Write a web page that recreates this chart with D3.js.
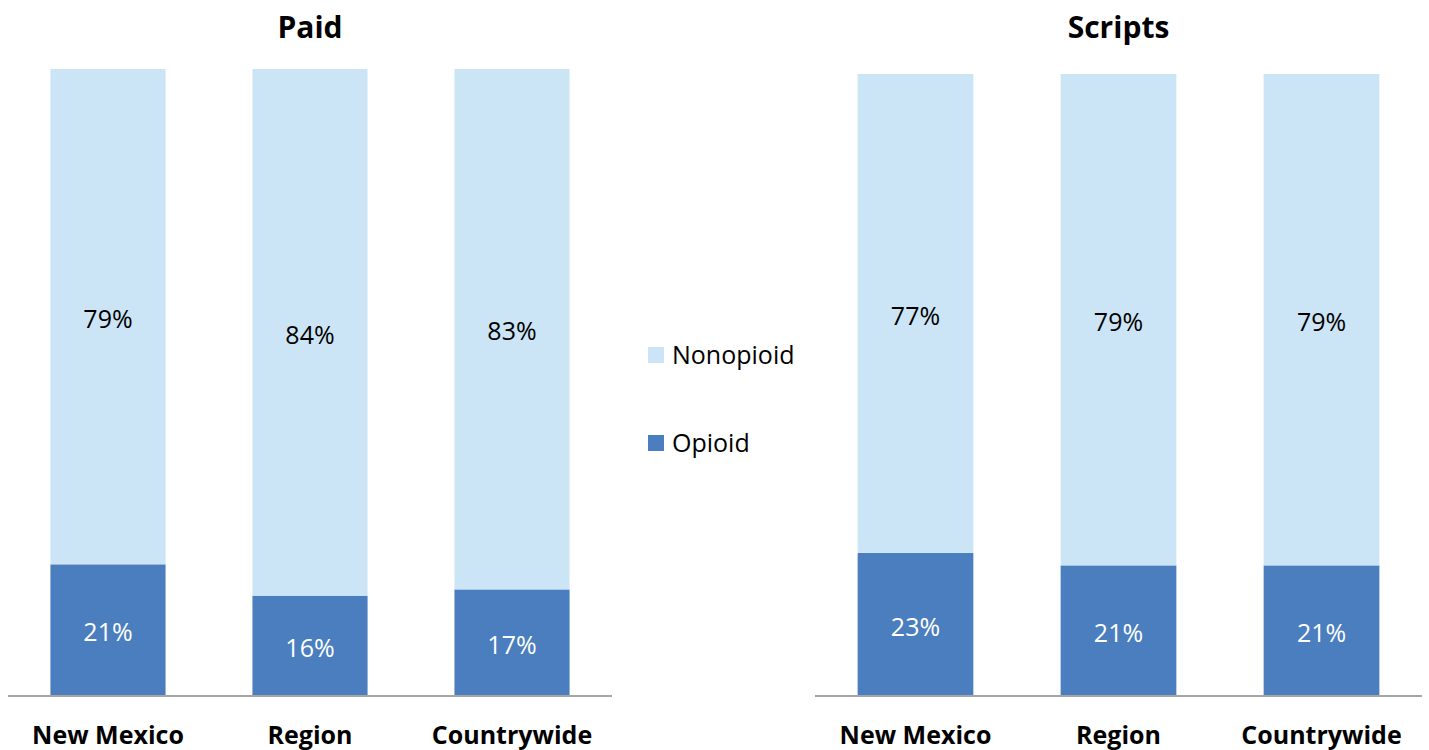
<!DOCTYPE html>
<html>
<head>
<meta charset="utf-8">
<script src="https://cdn.jsdelivr.net/npm/d3@7/dist/d3.min.js"></script>
<style>
  body { margin: 0; background: #fff; }
  svg { display: block; font-family: "Open Sans", "Noto Sans", sans-serif; }
</style>
</head>
<body>
<div id="chart"></div>
<script>
'use strict';

// data
var categories = ['New Mexico', 'Region', 'Countrywide'];
var series = ['Opioid', 'Nonopioid'];
var paidOpioid = [21, 16, 17];
var paidNonopioid = [79, 84, 83];
var scriptsOpioid = [23, 21, 21];
var scriptsNonopioid = [77, 79, 79];

var colors = { Opioid: '#4a7ebf', Nonopioid: '#cce5f6' };

var width = 1429, height = 750;

var svg = d3.select('#chart').append('svg')
    .attr('width', width)
    .attr('height', height);

var panels = [
    { title: 'Paid', opioid: paidOpioid, nonopioid: paidNonopioid, x0: 8, x1: 612, top: 69, bottom: 696 },
    { title: 'Scripts', opioid: scriptsOpioid, nonopioid: scriptsNonopioid, x0: 815, x1: 1422, top: 74, bottom: 696 }
];

panels.forEach(function(p) {
    var g = svg.append('g');

    var x = d3.scaleBand()
        .domain(categories)
        .range([p.x0, p.x1])
        .paddingInner(0.43)
        .paddingOuter(0.21);

    var y = d3.scaleLinear()
        .domain([0, 100])
        .range([p.bottom, p.top]);

    var rows = categories.map(function(c, i) {
        return { cat: c, Opioid: p.opioid[i], Nonopioid: p.nonopioid[i] };
    });
    var stacked = d3.stack().keys(series)(rows);

    var layers = g.selectAll('g.layer')
        .data(stacked)
        .enter().append('g')
        .attr('class', 'layer')
        .attr('fill', function(d) { return colors[d.key]; });

    layers.selectAll('rect')
        .data(function(d) { return d; })
        .enter().append('rect')
        .attr('x', function(d) { return x(d.data.cat); })
        .attr('width', x.bandwidth())
        .attr('y', function(d) { return y(d[1]); })
        .attr('height', function(d) { return y(d[0]) - y(d[1]); });

    layers.each(function(layer) {
        d3.select(this).selectAll('text')
            .data(layer)
            .enter().append('text')
            .attr('x', function(d) { return x(d.data.cat) + x.bandwidth() / 2; })
            .attr('y', function(d) { return (y(d[0]) + y(d[1])) / 2; })
            .attr('dy', '0.45em')
            .attr('text-anchor', 'middle')
            .attr('font-size', 25)
            .attr('fill', layer.key === 'Opioid' ? '#ffffff' : '#000000')
            .text(function(d) { return (d[1] - d[0]) + '%'; });
    });

    var axis = d3.axisBottom(x).tickSize(0).tickPadding(30);
    var ag = g.append('g')
        .attr('transform', 'translate(0,' + p.bottom + ')')
        .call(axis);
    ag.select('.domain')
        .attr('d', 'M' + p.x0 + ',0H' + p.x1)
        .attr('stroke', '#a6a6a6')
        .attr('stroke-width', 2);
    ag.selectAll('text')
        .attr('font-size', 25)
        .attr('font-weight', 'bold')
        .attr('font-family', '"Open Sans", sans-serif')
        .attr('fill', '#000');

    g.append('text')
        .attr('x', (x(categories[0]) + x(categories[2]) + x.bandwidth()) / 2)
        .attr('y', 27)
        .attr('dy', '0.35em')
        .attr('text-anchor', 'middle')
        .attr('font-size', 30)
        .attr('font-weight', 'bold')
        .text(p.title);
});

// legend
var legendItems = ['Nonopioid', 'Opioid'];
var legendY = d3.scalePoint().domain(legendItems).range([355, 443]);

var lg = svg.selectAll('g.legend')
    .data(legendItems)
    .enter().append('g')
    .attr('class', 'legend')
    .attr('transform', function(d) { return 'translate(648,' + legendY(d) + ')'; });

lg.append('rect')
    .attr('x', 0)
    .attr('y', -8)
    .attr('width', 16)
    .attr('height', 16)
    .attr('fill', function(d) { return colors[d]; });

lg.append('text')
    .attr('x', 24)
    .attr('dy', '0.35em')
    .attr('font-size', 25)
    .text(function(d) { return d; });
</script>
</body>
</html>
